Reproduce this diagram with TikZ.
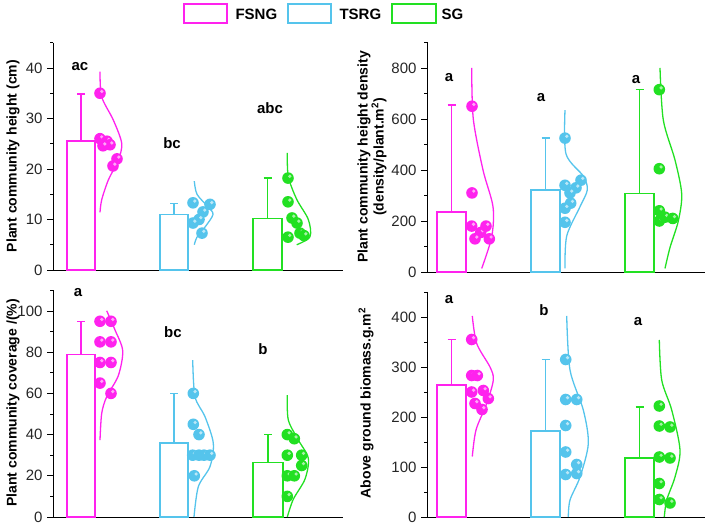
\documentclass[tikz,border=0pt]{standalone}
\usepackage{fontspec}
\setmainfont{Liberation Sans}
\usetikzlibrary{positioning}
\definecolor{fsng}{HTML}{FF22EE}
\definecolor{tsrg}{HTML}{55C4EC}
\definecolor{sg}{HTML}{22E022}
\newcommand{\ballat}[3]{\fill[#1] (#2,#3) circle[radius=5.8pt];
  \fill[white, opacity=0.6] ([shift={(1.8pt,1.8pt)}]#2,#3) circle[radius=1.8pt];}
\newcommand{\barerr}[5]{%
  \draw[#1, line width=1.5pt] (#2,0) rectangle (#3,#4);
  \draw[#1, line width=1.5pt] ({(#2+#3)/2},#4) -- ({(#2+#3)/2},#5);
  \draw[#1, line width=1.5pt] ({(#2+#3)/2-4},#5) -- ({(#2+#3)/2+4},#5);}
\begin{document}
\begin{tikzpicture}[x=1pt, y=1pt,
    ticklab/.style={anchor=east, font=\fontsize{15}{15}\selectfont, text=black!85},
    sig/.style={font=\bfseries\fontsize{15}{15}\selectfont},
    ylab/.style={rotate=90, font=\bfseries\fontsize{14}{16}\selectfont, align=center},
    leg/.style={font=\bfseries\fontsize{15}{15}\selectfont, anchor=west},
    curve/.style={line width=1.3pt, smooth}
]
    \useasboundingbox (0,0) rectangle (709,526);

    % legend
    \draw[fsng, line width=1.3pt] (184,503) rectangle (227,522);
    \node[leg] (lfsng) at (232,512) {FSNG};
    \draw[tsrg, line width=1.3pt] (288,503) rectangle (331,522);
    \node[leg] (ltsrg) at (336,512) {TSRG};
    \draw[sg, line width=1.3pt] (392,503) rectangle (436,522);
    \node[leg] (lsg) at (438,512) {SG};

    % panel 1: height
    \begin{scope}[shift={(0,256)}, y=5.05pt]
        \draw[thick] (53,45) -- (53,0) -- (343,0);
        \foreach \v in {0,10,...,40} {
            \draw[thick] (53,\v) -- (47,\v);
            \node[ticklab] at (46,\v) {\v};
        }
        \foreach \v in {5,15,...,45} {\draw[thick] (53,\v) -- (50,\v);}
        \barerr{fsng}{67}{95}{25.5}{34.8}
        \barerr{tsrg}{160}{188}{11}{13.2}
        \barerr{sg}{253}{282}{10.2}{18.2}
        \draw[fsng, curve] plot coordinates {(100,39.3) (101.7,34.3) (113.3,29.7) (121.7,25.1) (118.3,21.8) (108.3,17.8) (101.7,13.9) (100,11.4)};
        \draw[tsrg, curve] plot coordinates {(194.3,17.6) (197,15) (208,12.5) (213,11) (205,8.5) (197,6.5) (194.3,5)};
        \draw[sg, curve] plot coordinates {(287.3,23.2) (288.3,18.5) (296.7,14) (308.3,10) (310,6.6) (296.7,5)};
        \foreach \x/\v in {100/35,100/26,107/25.5,110/24.8,103/24.6,117/22,113/20.6} {\ballat{fsng}{\x}{\v}}
        \foreach \x/\v in {193/13.3,210/13,203/11.5,199/10,193/9.3,202/7.3} {\ballat{tsrg}{\x}{\v}}
        \foreach \x/\v in {288/18.2,288/13.5,292/10.3,297/9.3,300/7.3,304/6.8,288/6.5} {\ballat{sg}{\x}{\v}}
    \end{scope}

    % panel 2: density
    \begin{scope}[shift={(0,254)}, y=0.255pt]
        \draw[thick] (427,900) -- (427,0) -- (705,0);
        \foreach \v in {0,200,...,800} {
            \draw[thick] (427,\v) -- (421,\v);
            \node[ticklab] at (420,\v) {\v};
        }
        \foreach \v in {100,300,...,900} {\draw[thick] (427,\v) -- (424,\v);}
        \barerr{fsng}{437}{466}{235}{655}
        \barerr{tsrg}{531}{560}{322}{525}
        \barerr{sg}{625}{654}{308}{715}
        \draw[fsng, curve] plot coordinates {(471.7,800) (473.3,600) (483,400) (493,256) (491.7,138) (481.7,14)};
        \draw[tsrg, curve] plot coordinates {(565,635) (566,463) (583.3,376) (587.3,322) (580,256) (566.7,141) (565,14)};
        \draw[sg, curve] plot coordinates {(660,800) (663.3,596) (675,439) (681.7,306) (678.3,200) (670,96) (665,14)};
        \foreach \x/\v in {472/650,472/310,471.7/180,480.7/155,486/180,475/130,489.3/130} {\ballat{fsng}{\x}{\v}}
        \foreach \x/\v in {565/525,565/340,581/360,576/330,570/310,570.7/270,565/250,565/195} {\ballat{tsrg}{\x}{\v}}
        \foreach \x/\v in {659.3/715,659.3/405,659.3/240,659.3/200,665/215,672.7/210} {\ballat{sg}{\x}{\v}}
    \end{scope}

    % panel 3: coverage
    \begin{scope}[shift={(0,9)}, y=2.06pt]
        \draw[thick] (53,110) -- (53,0) -- (343,0);
        \foreach \v in {0,20,...,100} {
            \draw[thick] (53,\v) -- (47,\v);
            \node[ticklab] at (46,\v) {\v};
        }
        \foreach \v in {10,30,...,110} {\draw[thick] (53,\v) -- (50,\v);}
        \barerr{fsng}{67}{95}{79}{95}
        \barerr{tsrg}{160}{188}{36}{60}
        \barerr{sg}{253}{283}{26.5}{40}
        \draw[fsng, curve] plot coordinates {(106.7,100.1) (115,90.8) (122.7,80.7) (118.3,68.6) (106.7,58.4) (101.7,50.3) (100,37.3)};
        \draw[tsrg, curve] plot coordinates {(192.7,76.2) (195,58.4) (205,48.7) (213.3,35.8) (210,24.5) (198.3,14.7) (194,0)};
        \draw[sg, curve] plot coordinates {(287.3,59.2) (288.3,47.1) (298.3,37.4) (308.3,28.5) (305,18.4) (293.3,8.6) (287.3,0)};
        \foreach \x/\v in {100/95,111/95,100/85,111/85,100/75,111/75,100/65,111/60} {\ballat{fsng}{\x}{\v}}
        \foreach \x/\v in {193.3/60,193.3/45,199/40,192.7/30,199/30,204/30,210/30,194.3/20} {\ballat{tsrg}{\x}{\v}}
        \foreach \x/\v in {287.3/40,294.3/38,287.3/30,301.7/30,301.7/25,287.3/20,294.3/20,287.3/10} {\ballat{sg}{\x}{\v}}
    \end{scope}

    % panel 4: biomass
    \begin{scope}[shift={(0,9)}, y=0.5pt]
        \draw[thick] (427,450) -- (427,0) -- (705,0);
        \foreach \v in {0,100,...,400} {
            \draw[thick] (427,\v) -- (421,\v);
            \node[ticklab] at (420,\v) {\v};
        }
        \foreach \v in {50,150,...,450} {\draw[thick] (427,\v) -- (424,\v);}
        \barerr{fsng}{437}{466}{264}{355}
        \barerr{tsrg}{531}{560}{172}{315}
        \barerr{sg}{625}{654}{118}{220}
        \draw[fsng, curve] plot coordinates {(472.3,402) (476.7,347) (490,300) (493.3,274) (486.7,227) (476,174) (472.3,121)};
        \draw[tsrg, curve] plot coordinates {(566.7,402) (570,294) (583.3,214) (588.3,147) (580,80) (570,34) (568.3,0)};
        \draw[sg, curve] plot coordinates {(659.3,354) (661.7,274) (671.7,214) (680,134) (675,80) (666.7,34) (664.3,0)};
        \foreach \x/\v in {471.7/355,471.7/283,477.3/283,471.7/250,483.3/253,488.3/237,475/227,482/215} {\ballat{fsng}{\x}{\v}}
        \foreach \x/\v in {565.7/315,565.7/235,576.7/235,565.7/183,565.7/130,576.7/105,565.7/85,576.7/87} {\ballat{tsrg}{\x}{\v}}
        \foreach \x/\v in {659.3/222,659.3/182,670/180,659.3/120,670/118,659.3/67,659.3/35,670/28} {\ballat{sg}{\x}{\v}}
    \end{scope}

    % significance letters
    \node[sig] (s1a) at (80,459) {ac};
    \node[sig] (s1b) at (172,383) {bc};
    \node[sig] (s1c) at (270,418) {abc};
    \node[sig] (s2a) at (449,448) {a};
    \node[sig] (s2b) at (541,428) {a};
    \node[sig] (s2c) at (636,446) {a};
    \node[sig] (s3a) at (78,233) {a};
    \node[sig] (s3b) at (173,194) {bc};
    \node[sig] (s3c) at (263,177) {b};
    \node[sig] (s4a) at (449,226) {a};
    \node[sig] (s4b) at (544,216) {b};
    \node[sig] (s4c) at (638,204) {a};

    % axis titles
    \node[ylab] (t1) at (13,370) {Plant community height (cm)};
    \node[ylab] (t2) at (372,369) {Plant community height density\\(density/plant.m$^\mathbf{2}$)};
    \node[ylab] (t3) at (13,123) {Plant community coverage /(\%)};
    \node[ylab] (t4) at (366,123) {Above ground biomass.g.m$^\mathbf{2}$};
\end{tikzpicture}
\end{document}
